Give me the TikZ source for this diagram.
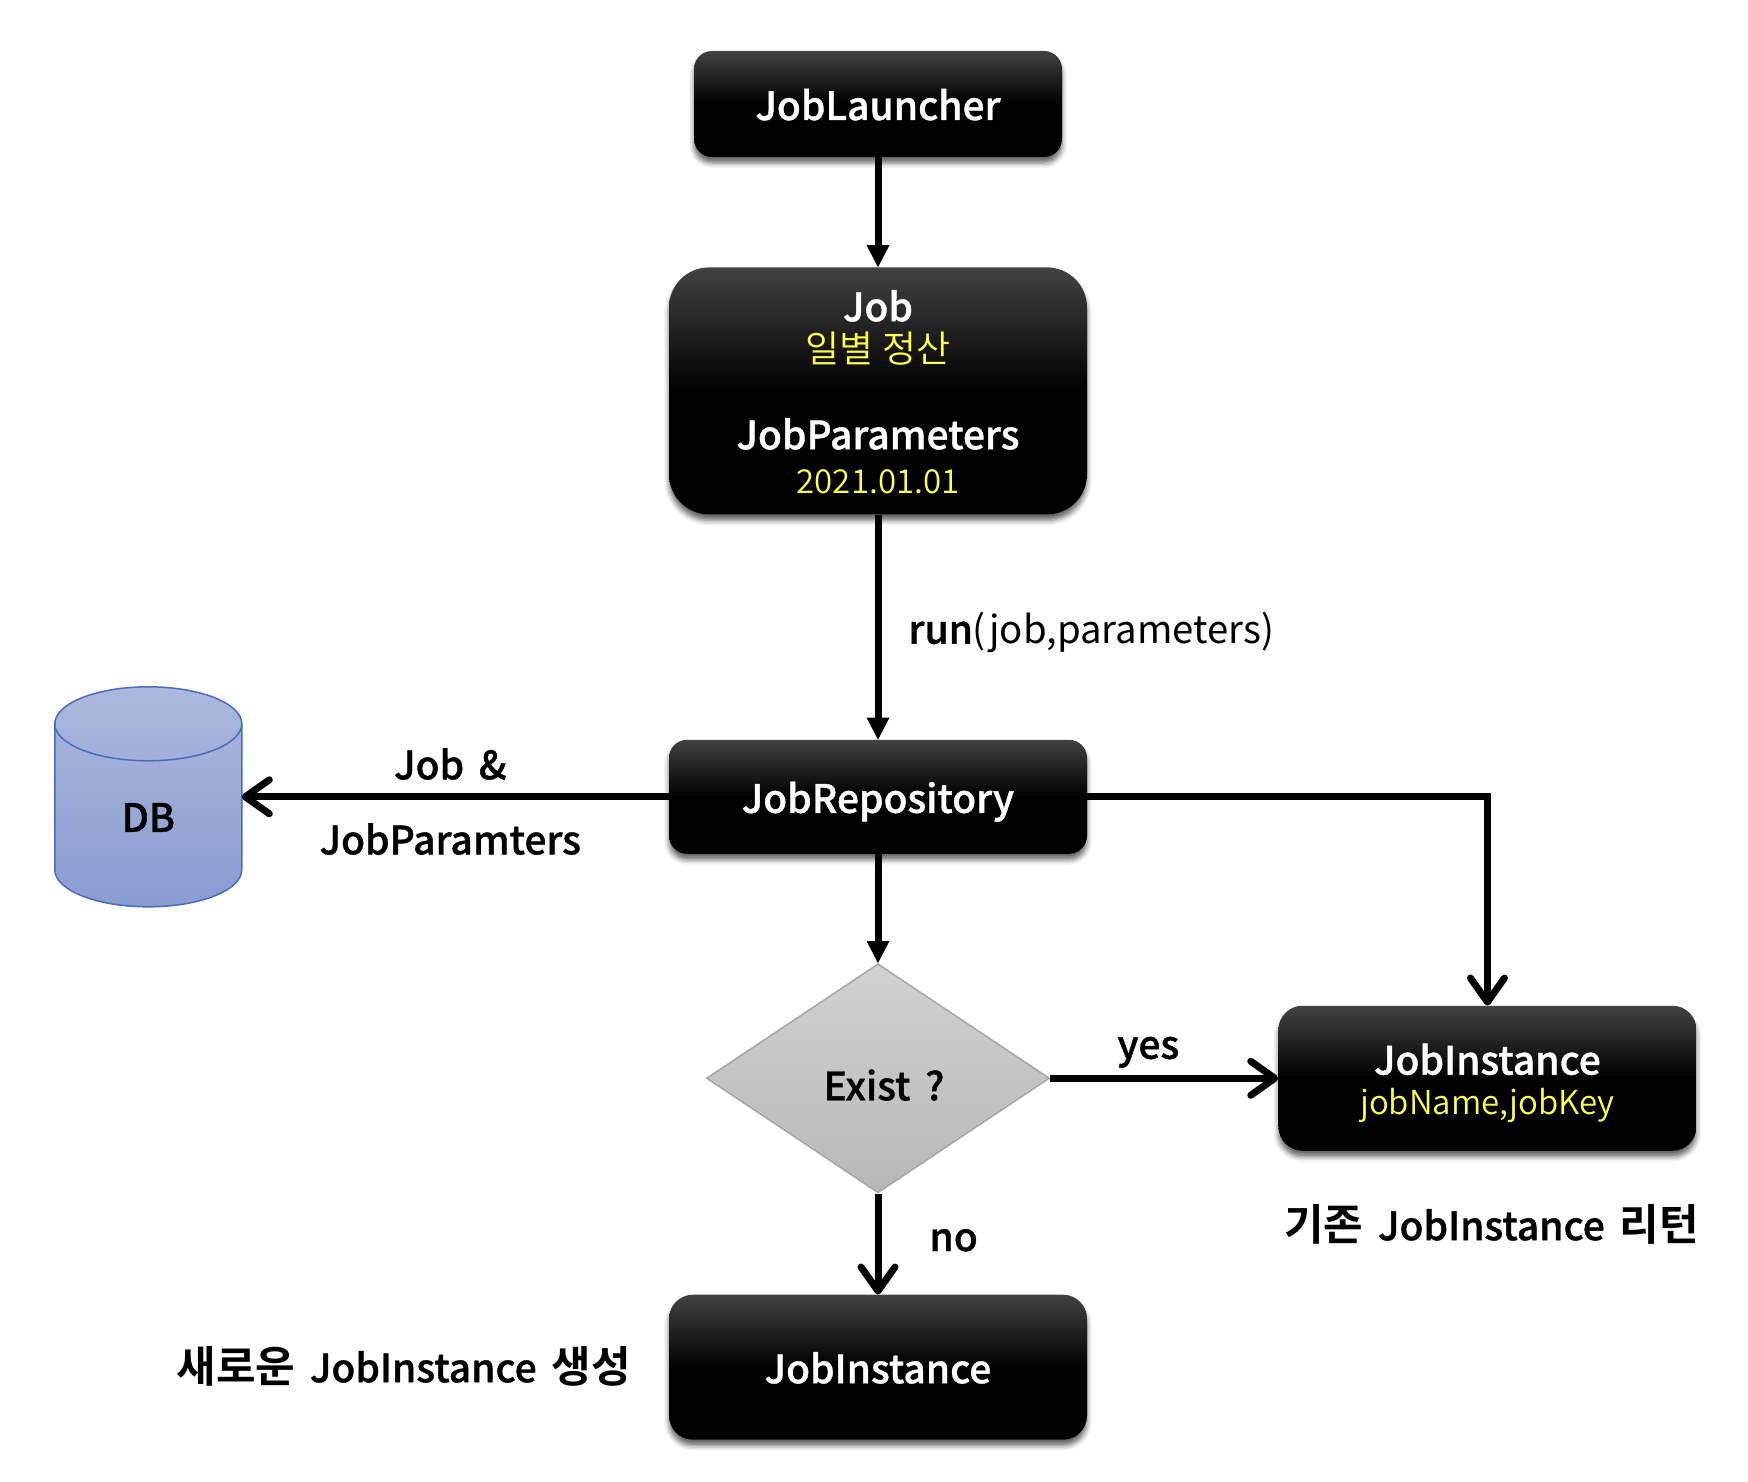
\documentclass[tikz,border=0pt]{standalone}
\usepackage{fontspec}
\setmainfont{Noto Sans CJK KR}[BoldFont={Noto Sans CJK KR Medium},BoldFeatures={FakeBold=1}]
\newfontfamily\krfont{Noto Sans CJK KR}[BoldFont={Noto Sans CJK KR Bold}]
\newfontfamily\thinfont{Noto Sans CJK KR DemiLight}
\usetikzlibrary{positioning}
\usetikzlibrary{shapes.geometric}
\usetikzlibrary{shadows.blur}
\usetikzlibrary{arrows.meta}
\definecolor{boxtop}{HTML}{424242}
\definecolor{softyellow}{HTML}{FFFF50}
\definecolor{dbline}{HTML}{4A6BC0}
\definecolor{dbtop}{HTML}{ACB8DC}
\definecolor{dbbottom}{HTML}{899CD2}
\newcommand{\mainsize}{\fontsize{39}{44}\selectfont}
\newcommand{\subsize}{\fontsize{33}{40}\selectfont}
\newcommand{\kr}[1]{{\krfont\fontsize{43}{44}\selectfont #1}}

\begin{document}
\begin{tikzpicture}[x=1pt,y=1pt,
    blackbox/.style = {rectangle, rounded corners=18pt, minimum width=418pt, top color=boxtop, bottom color=black, middle color=black, text=white, font=\mainsize\bfseries, text height=32pt, text depth=0pt, inner sep=0pt, blur shadow={shadow xshift=0pt, shadow yshift=-6pt, shadow blur radius=5pt, shadow opacity=60}},
    labeltext/.style = {font=\mainsize\bfseries, text=black, text height=30pt, text depth=0pt, inner sep=0pt},
    subtext/.style = {font=\subsize\thinfont, text=softyellow, inner sep=0pt, anchor=base},
    solidline/.style = {line width=7pt, -{Triangle[length=22pt,width=23pt,line width=0pt]}},
    openline/.style = {line width=7pt, -{Straight Barb[length=24pt,width=34pt,round]}},
    dbshape/.style = {draw=dbline, line width=1.5pt}]
     \useasboundingbox (0,0) rectangle (1748,-1482);
     \node[blackbox, minimum width=368pt, minimum height=106pt] (launcher) at (878,-104) {JobLauncher};
     \node[blackbox, rounded corners=40pt, minimum height=247pt] (job) [below=110pt of launcher] {};
     \node[blackbox, minimum height=114pt] (repository) [below=225pt of job] {JobRepository};
     \node[diamond, minimum width=343pt, minimum height=229pt, aspect=1.49, inner sep=0pt, draw=black!35, line width=1.5pt, top color=black!18, bottom color=black!28] (exist) [below=109pt of repository] {};
     \node[blackbox, rounded corners=24pt, minimum height=145pt] (instold) [right=228pt of exist] {};
     \node[blackbox, rounded corners=24pt, minimum height=145pt] (instnew) [below=101pt of exist] {JobInstance};
     \node[rectangle, minimum width=187pt, minimum height=220pt, inner sep=0pt, outer sep=0pt] (db) [left=427pt of repository] {};

     % cylinder of the db
     \path[dbshape, top color=dbtop, bottom color=dbbottom] ([yshift=-37pt]db.north west) arc (180:0:93.5pt and 37pt) -- ([yshift=37pt]db.south east) arc (360:180:93.5pt and 37pt) -- cycle;
     \draw[dbshape] ([yshift=-37pt]db.north west) arc (180:360:93.5pt and 37pt);

     % box texts
     \node[labeltext, text=white, anchor=base] (jobname) at ([yshift=-54pt]job.north) {Job};
     \node[subtext] (jobdaily) at ([yshift=-95pt]job.north) {\fontsize{37}{40}\selectfont 일별 정산};
     \node[labeltext, text=white, anchor=base] (jobparams) at ([yshift=-182pt]job.north) {JobParameters};
     \node[subtext] (jobdate) at ([yshift=-226pt]job.north) {2021.01.01};
     \node[labeltext, text=white, anchor=base] (oldname) at ([yshift=-69pt]instold.north) {JobInstance};
     \node[subtext] (oldkeys) at ([yshift=-109pt]instold.north) {jobName,jobKey};
     \node[labeltext] (existtext) [xshift=6pt, yshift=-7pt] at (exist) {Exist\hspace{6pt} ?};
     \node[labeltext] (dbtext) [yshift=-20pt] at (db) {DB};

     \node[labeltext] (oldnote) [below=59pt of instold, xshift=4pt] {\kr{기존}\hspace{6pt} JobInstance\hspace{6pt} \kr{리턴}};
     \node[labeltext] (newnote) [left=38pt of instnew] {\kr{새로운}\hspace{6pt} JobInstance\hspace{6pt} \kr{생성}};

     \draw[solidline] (launcher) -- (job);
     \draw[solidline] (job) -- node[labeltext, right=27pt, yshift=-1.5pt] (runlabel) {run{\mdseries\fontsize{38.3}{44}\selectfont (job,parameters)}} (repository);
     \draw[solidline] (repository) -- (exist);
     \draw[openline] (repository) -- node[labeltext, above=14pt, xshift=-5pt] (jobamp) {Job\hspace{6pt} \&} node[labeltext, below=24pt, xshift=-5pt] (jobparamters) {JobParamters} (db);
     \draw[openline] (repository) -| (instold);
     \draw[openline] (exist) -- node[labeltext, above=16pt, xshift=-16pt] (yeslabel) {yes} (instold);
     \draw[openline] (exist) -- node[labeltext, right=48pt, yshift=8pt] (nolabel) {no} (instnew);
\end{tikzpicture}
\end{document}
